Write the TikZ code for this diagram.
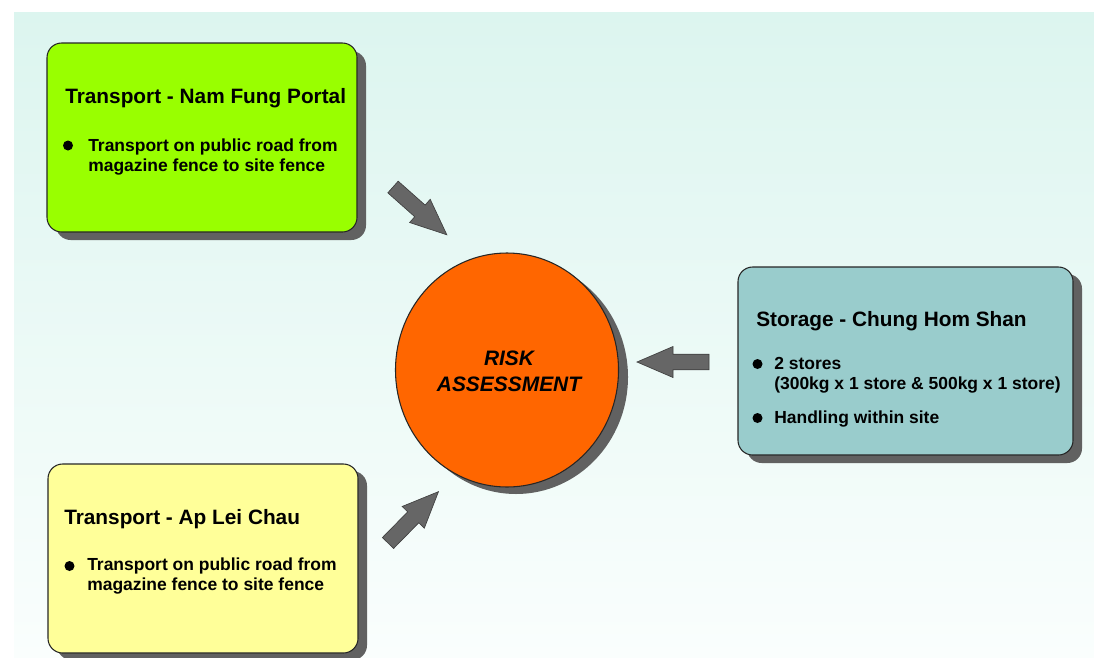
\documentclass[tikz,border=0pt]{standalone}
\usepackage{fontspec}
\setmainfont{Liberation Sans}
\usetikzlibrary{shapes.geometric}
\begin{document}
\begin{tikzpicture}[x=0.75pt,y=-0.75pt,
  box/.style={draw=black!85,line width=0.8pt,rounded corners=11pt,inner sep=0pt},
  ttl/.style={anchor=base west,inner sep=0pt,font=\fontsize{15.6}{19}\selectfont\bfseries},
  txt/.style={anchor=base west,inner sep=0pt,align=left,font=\fontsize{13.1}{14.7}\selectfont\bfseries},
  dot/.style={circle,fill=black,inner sep=0pt,minimum size=7.5pt},
  blockarrow/.style={fill=black!60,draw=black!75,line width=0.5pt,line join=miter}
]
\useasboundingbox (0,0) rectangle (1094,657);
\fill[white] (0,0) rectangle (1094,657);
\shade[top color={rgb,255:red,220;green,245;blue,239},bottom color={rgb,255:red,250;green,254;blue,253}] (14,12) rectangle (1094,657);

% shadows
\fill[black!62,rounded corners=11pt] (56,51) rectangle (366,240);
\fill[black!62,rounded corners=11pt] (57,471) rectangle (367,660);
\fill[black!62,rounded corners=11pt] (747,274) rectangle (1082,463);
\fill[black!62] (516,377) ellipse [x radius=112, y radius=117];

% boxes
\node[box,fill={rgb,255:red,153;green,255;blue,0},minimum width=232.5pt,minimum height=141.75pt] (nf) at (202,137.5) {};
\node[box,fill={rgb,255:red,255;green,255;blue,153},minimum width=232.5pt,minimum height=141.75pt] (alc) at (203,558.5) {};
\node[box,fill={rgb,255:red,153;green,204;blue,204},minimum width=251.25pt,minimum height=141pt] (st) at (905.5,361) {};
\node[draw=black!85,line width=0.8pt,fill={rgb,255:red,255;green,102;blue,0},ellipse,minimum width=167.25pt,minimum height=175.5pt,inner sep=0pt] (ra) at (507,370) {};

% texts: Nam Fung
\node[ttl] (nft) at (65,103) {Transport - Nam Fung Portal};
\node[dot] (nfd) at (68,145.5) {};
\node[txt] (nfb) at (88,171) {Transport on public road from\\magazine fence to site fence};

% Ap Lei Chau
\node[ttl] (alct) at (64,524.5) {Transport - Ap Lei Chau};
\node[dot] (alcd) at (69.5,566) {};
\node[txt] (alcb) at (87,590) {Transport on public road from\\magazine fence to site fence};

% Storage
\node[ttl] (stt) at (756,326) {Storage - Chung Hom Shan};
\node[dot] (std1) at (757.5,364) {};
\node[txt] (stb1) at (774,389) {2 stores\\(300kg x 1 store \& 500kg x 1 store)};
\node[dot] (std2) at (757.5,418) {};
\node[txt] (stb2) at (774,423) {Handling within site};

% Risk assessment text
\node[align=center,inner sep=0pt,font=\fontsize{15.7}{19.5}\selectfont\bfseries\itshape] (rat) at (509,371) {RISK\\ASSESSMENT};

% block arrows
\coordinate (a1) at (393,187);
\coordinate (a2) at (709,362);
\coordinate (a3) at (388,543);
\foreach \c/\r in {a1/-41.6,a2/180,a3/45.5}{
  \begin{scope}[shift={(\c)},rotate=\r]
    \draw[blockarrow] (0,-7.8) -- (36,-7.8) -- (36,-15.5) -- (72,0) -- (36,15.5) -- (36,7.8) -- (0,7.8) -- cycle;
  \end{scope}
}
\end{tikzpicture}
\end{document}
